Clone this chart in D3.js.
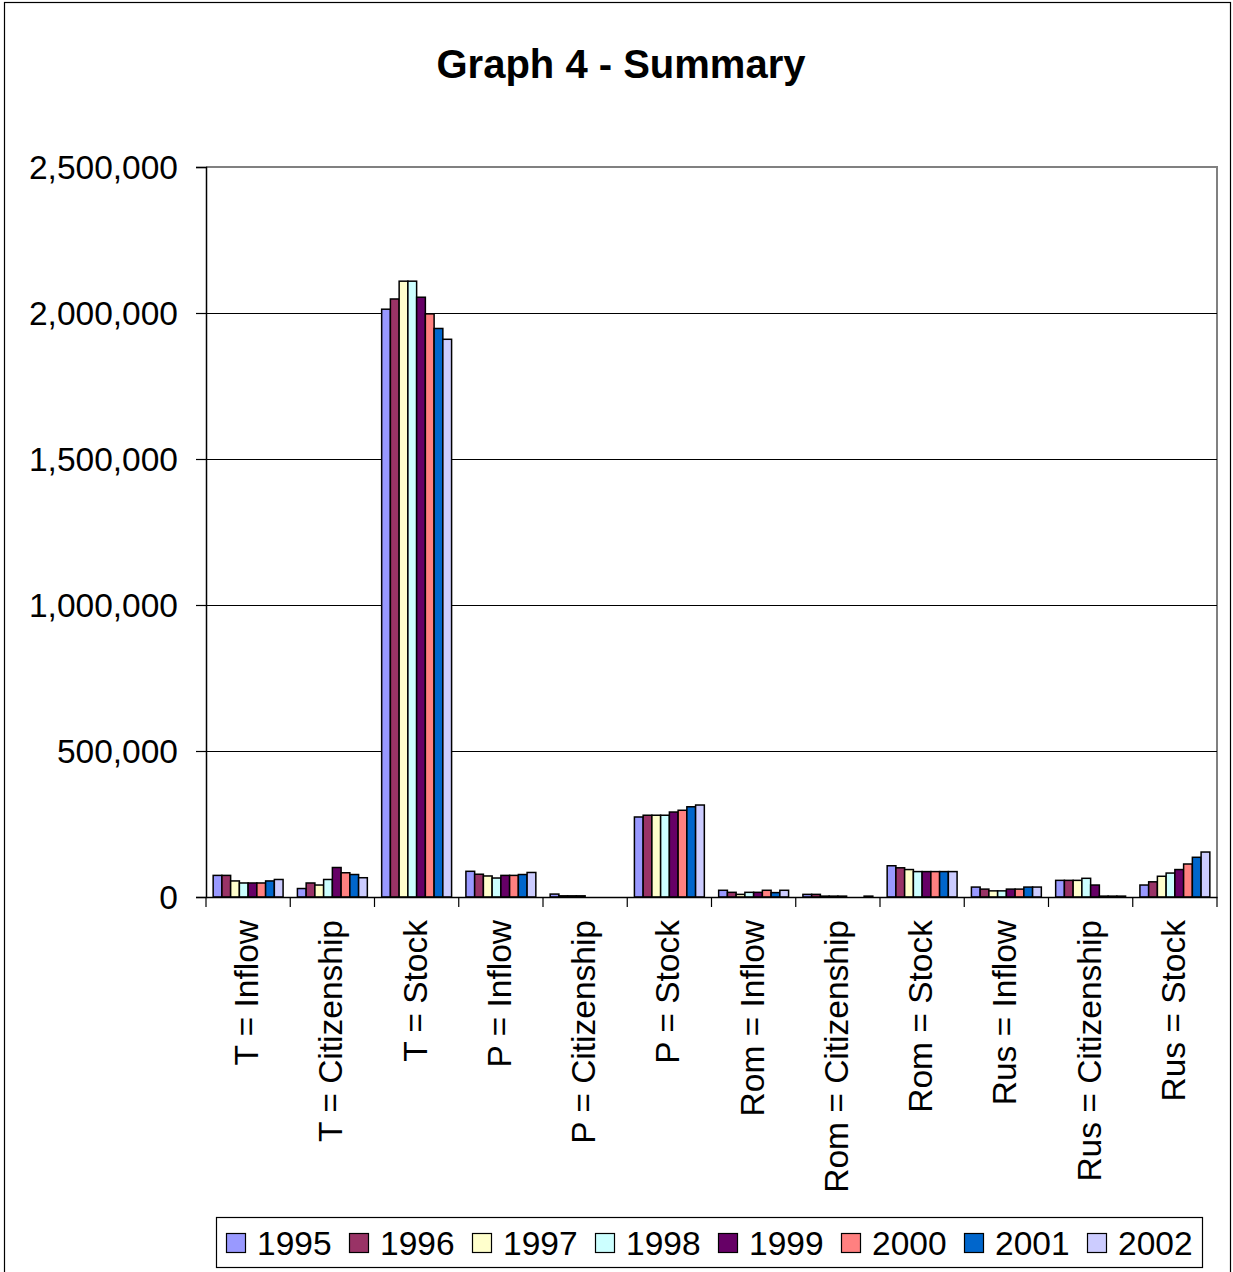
<!DOCTYPE html>
<html>
<head>
<meta charset="utf-8">
<script src="https://cdn.jsdelivr.net/npm/d3@7"></script>
<style>
  html, body { margin: 0; padding: 0; background: #fff; }
  svg { display: block; font-family: "Liberation Sans", Arial, sans-serif; }
</style>
</head>
<body>
<script>
const categories = ["T = Inflow","T = Citizenship","T = Stock","P = Inflow","P = Citizenship","P = Stock","Rom = Inflow","Rom = Citizenship","Rom = Stock","Rus = Inflow","Rus = Citizenship","Rus = Stock"];
const years = ["1995","1996","1997","1998","1999","2000","2001","2002"];
const v1995 = [74000, 29000, 2013000, 88000, 10000, 274000, 23000, 9000, 107000, 34000, 57000, 41000];
const v1996 = [74000, 48000, 2048000, 78000, 4000, 280000, 16000, 9000, 100000, 27000, 57000, 52000];
const v1997 = [55000, 41000, 2109000, 72000, 4000, 280000, 9000, 3000, 94000, 21000, 57000, 71000];
const v1998 = [48000, 60000, 2109000, 65000, 4000, 280000, 16000, 3000, 87000, 21000, 64000, 82000];
const v1999 = [48000, 101000, 2054000, 74000, 0, 291000, 16000, 3000, 87000, 27000, 41000, 94000];
const v2000 = [48000, 83000, 1997000, 74000, 0, 297000, 23000, 0, 87000, 27000, 3000, 113000];
const v2001 = [55000, 77000, 1947000, 77000, 0, 309000, 15000, 0, 87000, 34000, 3000, 136000];
const v2002 = [60000, 66000, 1910000, 84000, 0, 315000, 23000, 3000, 87000, 34000, 3000, 154000];
const yTicks = [0, 500000, 1000000, 1500000, 2000000, 2500000];
const colors = ["#9999FF","#993366","#FFFFCC","#CCFFFF","#660066","#FF8080","#0066CC","#CCCCFF"];
const title = "Graph 4 - Summary";

const seriesValues = [v1995, v1996, v1997, v1998, v1999, v2000, v2001, v2002];
const W = 1233, H = 1272;
const plot = { left: 206, right: 1217, top: 167, bottom: 897 };
const FS = 33.5;

const svg = d3.select("body").append("svg").attr("width", W).attr("height", H);
svg.append("rect").attr("width", W).attr("height", H).attr("fill", "#fff");
// outer frame
svg.append("rect").attr("x", 4.5).attr("y", 2.5).attr("width", 1226).attr("height", 1280)
  .attr("fill", "none").attr("stroke", "#000").attr("stroke-width", 1.2);

svg.append("text").attr("x", 621).attr("y", 78).attr("text-anchor", "middle")
  .attr("font-size", 40).attr("font-weight", "bold").attr("fill", "#000").text(title);

const pad = 0.17;
const x0 = d3.scaleBand().domain(categories).range([plot.left, plot.right])
  .paddingInner(pad).paddingOuter(pad / 2);
const x1 = d3.scaleBand().domain(years).range([0, x0.bandwidth()]);
const y = d3.scaleLinear().domain([0, 2500000]).range([plot.bottom, plot.top]);

// plot border (gray)
svg.append("path")
  .attr("d", `M${plot.left},${plot.top}H${plot.right}V${plot.bottom}`)
  .attr("fill", "none").attr("stroke", "#808080").attr("stroke-width", 2);

// gridlines
svg.append("g").selectAll("line").data(yTicks.filter(d => d > 0 && d < 2500000)).join("line")
  .attr("x1", plot.left).attr("x2", plot.right)
  .attr("y1", d => Math.round(y(d)) + 0.5).attr("y2", d => Math.round(y(d)) + 0.5)
  .attr("stroke", "#000").attr("stroke-width", 1);

// bars
const data = categories.map((c, i) => ({ c, vals: years.map((yr, j) => ({ yr, v: seriesValues[j][i], col: colors[j] })) }));
const groups = svg.append("g").selectAll("g").data(data).join("g")
  .attr("transform", d => `translate(${x0(d.c)},0)`);
groups.selectAll("rect").data(d => d.vals.filter(e => e.v > 0)).join("rect")
  .attr("x", e => x1(e.yr))
  .attr("width", x1.bandwidth())
  .attr("y", e => y(e.v))
  .attr("height", e => y(0) - y(e.v))
  .attr("fill", e => e.col)
  .attr("stroke", "#000").attr("stroke-width", 1.5);

// y axis
const yAxis = svg.append("g").attr("transform", `translate(${plot.left},0)`)
  .call(d3.axisLeft(y).tickValues(yTicks).tickFormat(d3.format(",")).tickSize(10).tickPadding(18));
yAxis.select(".domain").attr("stroke", "#000").attr("stroke-width", 1.5);
yAxis.selectAll(".tick line").attr("stroke", "#000").attr("stroke-width", 1.2);
yAxis.selectAll("text").attr("font-size", FS).attr("fill", "#000")
  .attr("font-family", '"Liberation Sans", Arial, sans-serif').attr("dy", "0.35em");

// x axis
const xAxis = svg.append("g").attr("transform", `translate(0,${plot.bottom})`)
  .call(d3.axisBottom(x0).tickSize(0).tickFormat(""));
xAxis.select(".domain").attr("stroke", "#000").attr("stroke-width", 1.5);
const step = x0.step();
const bounds = d3.range(categories.length + 1).map(i => plot.left + i * step);
svg.append("g").selectAll("line").data(bounds).join("line")
  .attr("x1", d => d).attr("x2", d => d)
  .attr("y1", plot.bottom).attr("y2", plot.bottom + 10)
  .attr("stroke", "#000").attr("stroke-width", 1.2);
svg.append("g").selectAll("text").data(categories).join("text")
  .attr("transform", d => `translate(${x0(d) + x0.bandwidth() / 2 + 10},920) rotate(-90)`)
  .attr("text-anchor", "end").attr("font-size", FS).attr("fill", "#000").text(d => d);

// legend
const lg = svg.append("g");
lg.append("rect").attr("x", 216.5).attr("y", 1217.5).attr("width", 986).attr("height", 50)
  .attr("fill", "#fff").attr("stroke", "#000").attr("stroke-width", 1.2);
const items = lg.selectAll("g.item").data(years).join("g").attr("class", "item")
  .attr("transform", (d, i) => `translate(${226 + i * 123},0)`);
items.append("rect").attr("x", 0.5).attr("y", 1233.5).attr("width", 19).attr("height", 19)
  .attr("fill", (d, i) => colors[i]).attr("stroke", "#000").attr("stroke-width", 1.2);
items.append("text").attr("x", 31).attr("y", 1255).attr("font-size", FS).attr("fill", "#000").text(d => d);
</script>
</body>
</html>
